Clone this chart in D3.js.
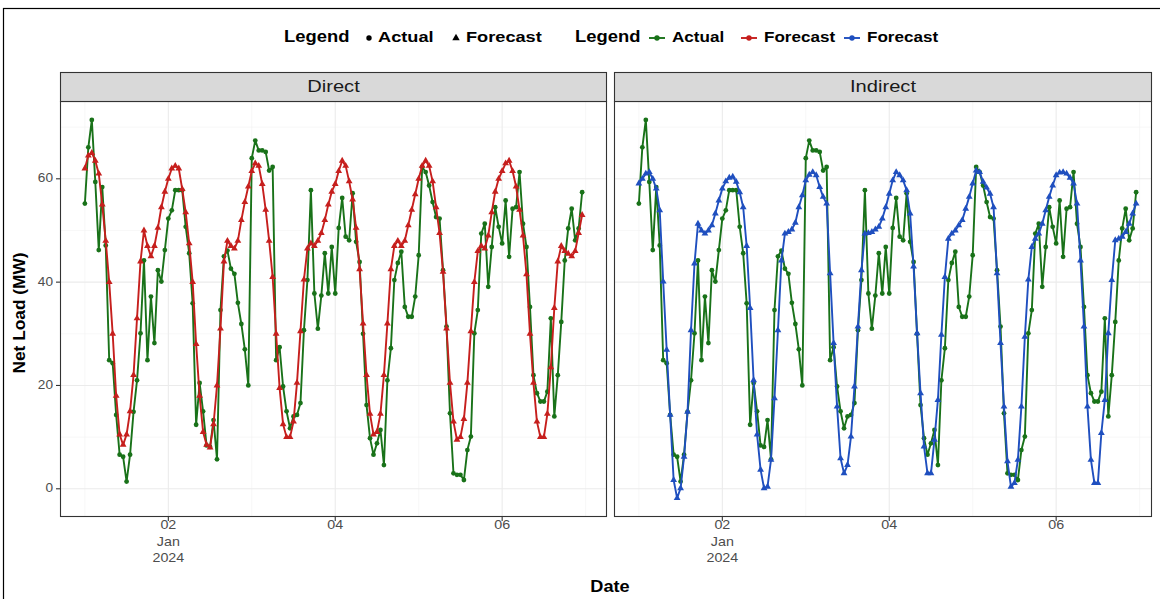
<!DOCTYPE html>
<html>
<head>
<meta charset="utf-8">
<script src="https://cdn.jsdelivr.net/npm/d3@7"></script>
<style>
  body { margin: 0; background: #fff; }
  svg { font-family: "Liberation Sans", Arial, sans-serif; display: block; }
</style>
</head>
<body>
<div id="wrapper"></div>
<script>
// Hourly net load, Jan 1 00:00 to Jan 6 23:00 (UTC)
const startTime = '2024-01-01T00:00:00Z'

const actual = [
  55.2, 66.1, 71.4, 59.4, 46.2, 58.4, 47.1, 24.9, 24.3, 14.3, 6.6, 6.2,
  1.4, 6.6, 14.9, 21, 30.1, 44.2, 24.9, 37.2, 28.2, 42.3, 40.1, 46.2,
  52.3, 53.9, 57.8, 57.8, 57.8, 50.7, 45.6, 35.9, 12.4, 20.5, 15, 8.4,
  8.1, 13.3, 5.7, 34.6, 45, 46.1, 42.6, 41.6, 36, 31.9, 27, 20,
  64, 67.4, 65.5, 65.5, 65.2, 61.6, 62.3, 24.9, 27.4, 19.8, 15, 11.7,
  14, 14.3, 16.6, 30.7, 40.4, 57.8, 37.8, 31, 37.4, 45.6, 37.8, 46.8,
  37.8, 50.5, 56.3, 48.8, 48.1, 57.2, 47.8, 43.9, 30, 16.2, 9.8, 6.6,
  8.8, 11.4, 4.6, 21, 27.2, 40.4, 43.7, 45.9, 35.2, 33.3, 33.3, 37.2,
  45.2, 62.3, 61.3, 58.7, 55.5, 52.6, 52.3, 42.3, 31.4, 14.6, 3, 2.7,
  2.7, 1.7, 7.5, 10.1, 30.1, 34.6, 49.4, 51.3, 39.1, 46.8, 54.5, 50.7,
  47.5, 55.8, 44.9, 54.2, 54.5, 61.3, 51.3, 46.8, 35.2, 22, 18.5, 16.9,
  16.9, 18.8, 33, 14, 22, 32.3, 44.2, 50.4, 54.2, 48.1, 50.4, 57.4
]

const directForecast = [
  62, 64.5, 65, 63.5, 61, 55, 48, 40, 30, 18, 10.5, 8.5,
  10.5, 15, 22, 33, 44, 50, 47, 45, 47, 50.5, 54.5, 57.5,
  60, 62, 62.5, 62, 58, 53.5, 47.5, 40, 28, 18, 11, 8.5,
  8, 12.5, 20, 31, 44, 48, 47, 46.5, 48, 52, 55.5, 58.5,
  61.5, 63, 62.5, 59, 54, 48, 41, 30, 19.5, 12.5, 10, 10,
  13, 20.5, 30.5, 40.5, 46.5, 47.5, 47, 48, 49.5, 52, 55, 57.5,
  59, 61.5, 63.5, 62.5, 59.5, 56, 50.5, 42.5, 32, 22, 14.5, 10.5,
  11, 14.5, 22, 32, 42.5, 47, 48, 47, 48, 51, 54, 57,
  60, 62.5, 63.5, 62.5, 59.5, 54.5, 49.5, 42, 31, 20.5, 13, 9.5,
  10, 13.5, 20.5, 30.5, 40, 46, 47, 46.5, 49, 53.5, 57.5, 60,
  61.5, 63, 63.5, 61.5, 58.5, 54, 49, 41.5, 30, 20.5, 13, 10,
  10, 14.5, 23.5, 35, 44, 47, 46, 45.5, 45, 46, 49.5, 53
]

const indirectForecast = [
  59.1, 60, 61, 61.3, 60, 58.1, 53.9, 40.1, 26.9, 14.3, 1.7, -1.8,
  0.1, 6.2, 14.9, 30.7, 43.6, 51.3, 50, 49.4, 50, 51, 53.3, 55.8,
  58.1, 59.5, 60.2, 60.4, 59.4, 57.4, 54.5, 47, 35, 21, 10.5, 3.7,
  0.1, 0.4, 5.6, 17.5, 30.7, 44.2, 49.4, 49.7, 50.2, 51.5, 54.5, 56.8,
  59.7, 60.8, 61.3, 60.7, 58.4, 56.5, 55.2, 41.7, 28.2, 15.9, 5.9, 3,
  4.6, 10.1, 19.8, 31.4, 42.3, 49.4, 49.5, 49.7, 50.2, 50.7, 52.3, 54.5,
  57.1, 59.7, 61.3, 60.7, 59.7, 57.8, 53.3, 43, 30.1, 18.5, 8.2, 3,
  3, 9.5, 17.2, 29.8, 41, 48.4, 49.4, 50, 51, 52, 54.2, 56.5,
  59.1, 61.6, 61.3, 59.4, 58.3, 57.1, 54.5, 41.7, 28.2, 15.9, 5.3, 0.4,
  1.1, 5.6, 15.9, 29.4, 40.5, 46.8, 48.4, 49.4, 51.3, 53.9, 56.5, 58.7,
  60.7, 61.2, 61.3, 61, 60.2, 59.1, 55.2, 44.2, 31.4, 15.9, 5.6, 1.1,
  1.1, 10.8, 17.2, 30.1, 40.4, 48.1, 48.4, 48.8, 49.7, 51.3, 53.3, 55.2
]

const panelNames = ['Direct', 'Indirect']
const yTicks = [0, 20, 40, 60]
const yMinorTicks = [10, 30, 50, 70]
const xTicks = ['2024-01-02', '2024-01-04', '2024-01-06']
const xMinorTicks = ['2024-01-01', '2024-01-03', '2024-01-05', '2024-01-07']
const xTickLabels = [['02', 'Jan', '2024'], ['04'], ['06']]

const colors = { actual: '#197219', direct: '#c61f1d', indirect: '#1f4fbf' }

// Dimensions
const dimensions = {
  width: 1160,
  height: 599,
  stripTop: 72,
  panelTop: 101,
  panelBottom: 517,
  panelWidth: 547,
}
const panelLeft = [60, 614]
const panelRight = [607, 1152]

const t0 = new Date(startTime)
const times = actual.map((d, i) => new Date(t0.getTime() + i * 3600e3))
const series = [
  { values: directForecast, color: colors.direct },
  { values: indirectForecast, color: colors.indirect },
]

const wrapper = d3.select('#wrapper').append('svg')
  .attr('width', dimensions.width)
  .attr('height', dimensions.height)

// text helper - the reference text is a bit wider than Liberation Sans, so stretch horizontally
function addText(parent, x, y, str, o) {
  return parent.append('text')
    .attr('transform', `translate(${x},${y}) ${o.rotate ? 'rotate(-90)' : ''} scale(${o.sx || 1},1)`)
    .attr('text-anchor', o.anchor || 'start')
    .attr('dominant-baseline', o.baseline || 'middle')
    .attr('font-size', o.size)
    .attr('font-weight', o.weight || 'normal')
    .attr('fill', o.fill || '#000')
    .text(str)
}

// Outer border of the figure
wrapper.append('rect')
  .attr('x', 3.5).attr('y', 8.5)
  .attr('width', 1200).attr('height', 700)
  .attr('fill', 'none').attr('stroke', '#000').attr('stroke-width', 1.2)

// Scales
const tExtent = d3.extent(times)
const tPad = (tExtent[1] - tExtent[0]) * 0.05
const allValues = actual.concat(directForecast, indirectForecast)
const vExtent = d3.extent(allValues)
const vPad = (vExtent[1] - vExtent[0]) * 0.05
const yScale = d3.scaleLinear()
  .domain([vExtent[0] - vPad, vExtent[1] + vPad])
  .range([dimensions.panelBottom, dimensions.panelTop])

const defs = wrapper.append('defs')

panelNames.forEach((name, p) => {
  const x0 = panelLeft[p]
  const xScale = d3.scaleUtc()
    .domain([new Date(+tExtent[0] - tPad), new Date(+tExtent[1] + tPad)])
    .range([x0, x0 + dimensions.panelWidth])
  const xDate = d => xScale(new Date(d + 'T00:00:00Z'))

  const clipId = `clip-${p}`
  defs.append('clipPath').attr('id', clipId)
    .append('rect')
    .attr('x', x0).attr('y', dimensions.panelTop)
    .attr('width', panelRight[p] - x0)
    .attr('height', dimensions.panelBottom - dimensions.panelTop)

  const panel = wrapper.append('g')
  const inner = panel.append('g').attr('clip-path', `url(#${clipId})`)

  // grid
  inner.selectAll('.ygrid-minor').data(yMinorTicks).join('line')
    .attr('x1', x0).attr('x2', panelRight[p])
    .attr('y1', d => yScale(d)).attr('y2', d => yScale(d))
    .attr('stroke', '#f2f2f2').attr('stroke-width', 0.6)
  inner.selectAll('.xgrid-minor').data(xMinorTicks).join('line')
    .attr('x1', xDate).attr('x2', xDate)
    .attr('y1', dimensions.panelTop).attr('y2', dimensions.panelBottom)
    .attr('stroke', '#f2f2f2').attr('stroke-width', 0.6)
  inner.selectAll('.ygrid').data(yTicks).join('line')
    .attr('x1', x0).attr('x2', panelRight[p])
    .attr('y1', d => yScale(d)).attr('y2', d => yScale(d))
    .attr('stroke', '#ebebeb').attr('stroke-width', 1.1)
  inner.selectAll('.xgrid').data(xTicks).join('line')
    .attr('x1', xDate).attr('x2', xDate)
    .attr('y1', dimensions.panelTop).attr('y2', dimensions.panelBottom)
    .attr('stroke', '#ebebeb').attr('stroke-width', 1.1)

  const line = d3.line()
    .x((d, i) => xScale(times[i]))
    .y(d => yScale(d))

  // actual
  inner.append('path')
    .attr('d', line(actual))
    .attr('fill', 'none').attr('stroke', colors.actual).attr('stroke-width', 1.9)
    .attr('stroke-linejoin', 'round')
  inner.selectAll('.pt-actual').data(actual).join('circle')
    .attr('cx', (d, i) => xScale(times[i]))
    .attr('cy', d => yScale(d))
    .attr('r', 2.4)
    .attr('fill', colors.actual)

  // forecast
  const s = series[p]
  inner.append('path')
    .attr('d', line(s.values))
    .attr('fill', 'none').attr('stroke', s.color).attr('stroke-width', 1.9)
    .attr('stroke-linejoin', 'round')
  const tri = d3.symbol(d3.symbolTriangle, 20)
  inner.selectAll('.pt-fc').data(s.values).join('path')
    .attr('d', tri)
    .attr('transform', (d, i) => `translate(${xScale(times[i])},${yScale(d)})`)
    .attr('fill', s.color)

  // panel border
  panel.append('rect')
    .attr('x', x0 + 0.5).attr('y', dimensions.panelTop + 0.5)
    .attr('width', panelRight[p] - x0 - 1)
    .attr('height', dimensions.panelBottom - dimensions.panelTop - 1)
    .attr('fill', 'none').attr('stroke', '#333').attr('stroke-width', 1.1)

  // strip
  panel.append('rect')
    .attr('x', x0 + 0.5).attr('y', dimensions.stripTop + 0.5)
    .attr('width', panelRight[p] - x0 - 1)
    .attr('height', dimensions.panelTop - dimensions.stripTop)
    .attr('fill', '#d9d9d9').attr('stroke', '#333').attr('stroke-width', 1.1)
  addText(panel, (x0 + panelRight[p]) / 2, (dimensions.stripTop + dimensions.panelTop) / 2 + 1, name,
    { size: 16.5, anchor: 'middle', sx: 1.22, fill: '#1a1a1a' })

  // x axis ticks
  xTicks.forEach((d, i) => {
    const g = panel.append('g').attr('transform', `translate(${xDate(d)},${dimensions.panelBottom})`)
    g.append('line').attr('y1', 0).attr('y2', 4).attr('stroke', '#333').attr('stroke-width', 1.1)
    xTickLabels[i].forEach((l, j) => {
      addText(g, 0, 3 + j * 16.5, l,
        { size: 13, anchor: 'middle', baseline: 'hanging', sx: 1.1, fill: '#4d4d4d' })
    })
  })
})

// y axis (left panel only)
const yAxis = wrapper.append('g')
yTicks.forEach(d => {
  const g = yAxis.append('g').attr('transform', `translate(${panelLeft[0]},${yScale(d)})`)
  g.append('line').attr('x1', -4).attr('x2', 0).attr('stroke', '#333').attr('stroke-width', 1.1)
  addText(g, -7, 0, d, { size: 13, anchor: 'end', sx: 1.05, fill: '#4d4d4d' })
})

// axis titles
addText(wrapper, 21, (dimensions.panelTop + dimensions.panelBottom) / 2 + 4, 'Net Load (MW)',
  { size: 16.5, weight: 'bold', anchor: 'middle', rotate: true, sx: 1.05 })
addText(wrapper, (panelLeft[0] + panelRight[1]) / 2 + 4, 588, 'Date',
  { size: 16.5, weight: 'bold', anchor: 'middle', sx: 1.1 })

// legends
const legendY = 38
const legend = wrapper.append('g')

addText(legend, 284, legendY, 'Legend', { size: 16, weight: 'bold', sx: 1.15 })
legend.append('circle').attr('cx', 369).attr('cy', legendY).attr('r', 2.7).attr('fill', '#000')
addText(legend, 378, legendY, 'Actual', { size: 14, weight: 'bold', sx: 1.3 })
legend.append('path').attr('d', d3.symbol(d3.symbolTriangle, 24)())
  .attr('transform', `translate(456,${legendY})`).attr('fill', '#000')
addText(legend, 466, legendY, 'Forecast', { size: 14, weight: 'bold', sx: 1.3 })

addText(legend, 575, legendY, 'Legend', { size: 16, weight: 'bold', sx: 1.15 })
const colorKeys = [
  { x: 657, color: colors.actual, label: 'Actual' },
  { x: 749, color: colors.direct, label: 'Forecast' },
  { x: 852, color: colors.indirect, label: 'Forecast' },
]
colorKeys.forEach(k => {
  legend.append('line')
    .attr('x1', k.x - 8).attr('x2', k.x + 8)
    .attr('y1', legendY).attr('y2', legendY)
    .attr('stroke', k.color).attr('stroke-width', 1.9)
  legend.append('circle').attr('cx', k.x).attr('cy', legendY).attr('r', 2.7).attr('fill', k.color)
  addText(legend, k.x + 15, legendY, k.label, { size: 14, weight: 'bold', sx: 1.22 })
})
</script>
</body>
</html>
